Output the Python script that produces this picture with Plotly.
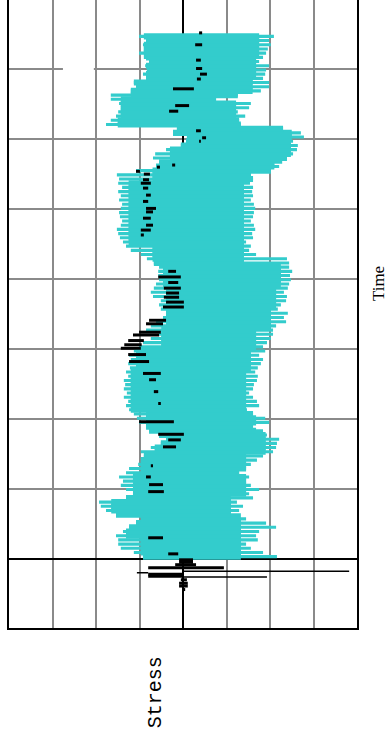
import numpy as np
import plotly.graph_objects as go

# ---- band record (cyan): per-sample min / max stress, uniform sampling ----
T0 = 0.3
DT = 0.6
band_lo = [
    -9.2, -11.3, -14.3, -14.9, -14.9, -15.4, -13.8, -12.4, -10.8, -9.7,
    -15.4, -17.7, -18.9, -19.3, -13.1, -11.5, -13.1, -14.3, -13.8, -14.7,
    -13.1, -12.4, -10.3, -9.7, -9.0, -9.7, -7.4, -5.1, -3.9, -5.5,
    -7.8, -8.5, -10.1, -10.6, -11.3, -12.4, -13.1, -12.6, -13.6, -12.9,
    -13.6, -13.3, -13.6, -12.6, -13.1, -12.2, -12.6, -12.0, -12.4, -11.3,
    -10.1, -9.2, -7.4, -5.5, -8.5, -7.4, -6.2, -4.6, -3.9, -5.1,
    -5.5, -5.1, -6.9, -7.4, -6.7, -6.2, -5.5, -5.7, -5.7, -5.5,
    -6.7, -8.3, -9.7, -12.0, -13.1, -13.8, -14.5, -14.9, -15.2, -14.3,
    -14.0, -14.5, -14.7, -14.3, -14.0, -14.7, -14.3, -14.9, -14.0, -14.9,
    -14.7, -15.2, -10.8, -6.2, -5.5, -6.9, -6.4, -3.9, -0.5, 0.7,
    0.9, -2.3, -1.4, -17.7, -16.6, -15.4, -14.9, -14.3, -14.7, -16.6,
    -16.6, -12.0, -10.8, -11.3, -8.5, -9.2, -8.3, -8.7, -7.8, -9.0,
    -10.1, -9.0, -9.2, -8.5, -10.1,
]
band_hi = [
    21.6, 18.4, 15.6, 14.5, 17.2, 16.8, 17.5, 21.4, 19.1, 14.5,
    13.3, 12.9, 13.8, 12.4, 16.1, 15.2, 17.5, 15.6, 14.5, 15.2,
    12.9, 14.5, 15.6, 17.0, 18.4, 20.7, 21.4, 21.6, 22.1, 19.3,
    18.4, 16.1, 19.8, 18.9, 16.1, 14.7, 17.5, 17.0, 16.1, 15.2,
    16.1, 16.3, 17.0, 17.2, 16.6, 17.2, 17.9, 18.4, 17.5, 18.9,
    18.4, 19.3, 20.2, 20.7, 20.7, 21.4, 23.7, 23.2, 24.1, 21.8,
    22.5, 23.7, 23.9, 23.2, 24.1, 24.4, 24.8, 24.6, 25.1, 24.4,
    24.4, 23.9, 16.8, 15.2, 15.6, 14.5, 16.1, 15.9, 16.6, 16.3,
    15.6, 16.1, 16.3, 16.6, 16.3, 15.6, 16.1, 15.9, 16.1, 15.4,
    16.1, 15.6, 20.2, 22.1, 22.8, 23.9, 25.3, 26.2, 26.4, 25.3,
    27.8, 27.1, 23.0, 13.3, 12.9, 14.3, 12.6, 15.2, 15.6, 7.6,
    12.6, 17.9, 19.8, 19.8, 18.4, 18.9, 19.1, 19.8, 17.5, 18.4,
    19.1, 19.5, 20.2, 19.8, 20.9,
]

# ---- dense extent of the band, one entry per block of 5 samples ----
BLOCK = 5
core_lo = [-9.7, -13.1, -16.5, -11.5, -9.7, -6.5, -8.5, -12.0, -12.0, -10.8,
           -5.0, -3.9, -3.9, -4.6, -7.0, -12.5, -12.5, -12.5, -7.0, -3.0,
           -15.0, -14.3, -12.0, -8.5, -9.0]
core_hi = [13.3, 13.3, 11.0, 14.5, 14.5, 19.0, 16.8, 14.5, 14.5, 15.6,
           16.8, 20.2, 21.4, 22.5, 14.0, 14.0, 14.0, 14.0, 21.0, 24.8,
           25.0, 12.2, 16.0, 16.8, 17.5]

# ---- reference trace (black): min / max stress per time bin ----
ref_t = [75.2, 73.5, 71.3, 70.1, 69.3, 68.6, 67.2, 64.8, 64.0, 61.2, 60.2,
         59.7, 56.3, 56.0, 55.4, 55.0, 54.2, 53.7, 53.0, 52.0, 51.1, 50.1,
         49.6, 48.7, 47.7, 47.0, 46.3, 41.1, 40.3, 39.5, 38.7, 38.0, 37.4,
         36.7, 36.0, 34.1, 33.6, 32.4, 32.0, 31.2, 30.6, 30.1, 29.2, 28.2,
         26.5, 25.6, 23.9, 22.2, 19.6, 17.8, 17.0, 16.0, 13.3, 11.7, 10.6,
         9.6, 3.0, 0.7, -0.15, -0.5, -0.85, -1.3, -2.2, -2.5, -3.0, -3.5,
         -3.9, -4.4]
ref_lo = [3.7, 2.8, 3.0, 3.0, 3.9, 3.2, -2.3, -1.8, -3.2, 3.0, 4.4,
          3.7, -2.5, -6.0, -10.8, -9.0, -9.2, -9.7, -9.2, -8.5, -9.2, -8.5,
          -8.5, -9.2, -8.5, -9.7, -9.7, -3.4, -5.7, -3.4, -4.4, -3.9, -4.4,
          -3.9, -4.6, -7.8, -8.5, -10.1, -11.5, -12.6, -13.5, -14.3, -12.6,
          -12.4, -9.2, -7.8, -6.7, -5.7, -10.1, -5.7, -3.4, -4.6, -7.4, -8.5,
          -7.8, -8.0, -8.0, -3.4, -0.9, -0.9, -1.8, -8.0, -8.0, -8.0, -0.5,
          -0.9, -0.9, -0.2]
ref_hi = [4.4, 4.4, 4.1, 4.4, 5.5, 4.1, 2.5, 1.4, -1.1, 4.1, 5.3,
          4.1, -1.8, -5.3, -9.9, -7.6, -7.8, -7.4, -8.0, -7.4, -8.0, -6.2,
          -6.9, -7.4, -6.9, -7.4, -9.0, -1.6, -0.5, -1.1, -0.5, -0.9, -0.9,
          0.2, 0.2, -3.9, -4.6, -5.1, -5.5, -9.0, -9.5, -9.7, -8.5, -7.8,
          -5.1, -6.2, -5.7, -5.1, -2.1, 0.2, -0.5, -1.6, -6.9, -7.4, -4.6,
          -4.4, -4.6, -1.1, 2.3, 2.3, 3.0, 9.4, 0.2, 0.2, 0.9, 1.1, 1.1, 0.5]

# ---- fast sweeps of the initial transient (thin) ----
sweep_t = [-1.8, -2.0, -2.6]
sweep_lo = [0.2, -10.6, 0.2]
sweep_hi = [38.2, -8.0, 19.3]

CYAN = "#33cccc"
GRID = "#8a8a8a"


def segments(t, lo, hi):
    xs, ys = [], []
    for ti, a, b in zip(t, lo, hi):
        xs += [a, b, None]
        ys += [ti, ti, None]
    return xs, ys


band_t = T0 + DT * np.arange(len(band_lo))
band_lo_a = np.array(band_lo)
band_hi_a = np.array(band_hi)

# dense part of each sample: its own sweep limited to the block's dense extent
blk = np.arange(len(band_lo)) // BLOCK
solid_lo = np.maximum(band_lo_a, np.array(core_lo)[blk])
solid_hi = np.minimum(band_hi_a, np.array(core_hi)[blk])

fig = go.Figure()

# individual sweeps (thin rows, leave hairline gaps at the ragged edges)
fig.add_trace(go.Bar(
    y=band_t, x=band_hi_a - band_lo_a, base=band_lo_a, orientation="h",
    width=DT * 0.74, marker=dict(color=CYAN, line=dict(width=0)),
    hoverinfo="skip", showlegend=False,
))
# dense body (overlapping rows, no gaps)
fig.add_trace(go.Bar(
    y=band_t, x=solid_hi - solid_lo, base=solid_lo, orientation="h",
    width=DT * 1.45, marker=dict(color=CYAN, line=dict(width=0)),
    hoverinfo="skip", showlegend=False,
))

rx, ry = segments(ref_t, ref_lo, ref_hi)
fig.add_trace(go.Scatter(
    x=rx, y=ry, mode="lines", line=dict(color="black", width=3),
    hoverinfo="skip", showlegend=False,
))

sx, sy = segments(sweep_t, sweep_lo, sweep_hi)
fig.add_trace(go.Scatter(
    x=sx, y=sy, mode="lines", line=dict(color="black", width=1.5),
    hoverinfo="skip", showlegend=False,
))

fig.update_layout(
    width=389, height=740,
    margin=dict(l=9, r=32, t=0, b=112),
    paper_bgcolor="white", plot_bgcolor="white",
    barmode="overlay",
    xaxis=dict(
        range=[-40, 40], dtick=10, tick0=0,
        showgrid=True, gridcolor=GRID, gridwidth=1.6,
        zeroline=True, zerolinecolor="black", zerolinewidth=1.6,
        showline=True, linecolor="black", linewidth=2, mirror=False,
        showticklabels=False, ticks="",
    ),
    yaxis=dict(
        range=[-9.9, 79.9], dtick=10, tick0=0,
        showgrid=True, gridcolor=GRID, gridwidth=1.6,
        zeroline=True, zerolinecolor="black", zerolinewidth=1.6,
        showline=True, linecolor="black", linewidth=2, mirror=True,
        showticklabels=False, ticks="",
    ),
    shapes=[dict(type="line", xref="x", yref="y", x0=-27.6, x1=-20.5,
                 y0=70, y1=70, line=dict(color="white", width=3),
                 layer="between")],
    annotations=[
        dict(text="Time", xref="paper", yref="paper", x=1.06, y=0.549,
             xanchor="center", yanchor="middle",
             showarrow=False, textangle=-90,
             font=dict(family="Liberation Serif", size=17, color="black")),
        dict(text="Stress", xref="paper", yref="paper", x=0.42, y=-0.102,
             xanchor="center", yanchor="middle",
             showarrow=False, textangle=-90,
             font=dict(family="Liberation Mono", size=20, color="black")),
    ],
)

fig.write_html("out.html")
